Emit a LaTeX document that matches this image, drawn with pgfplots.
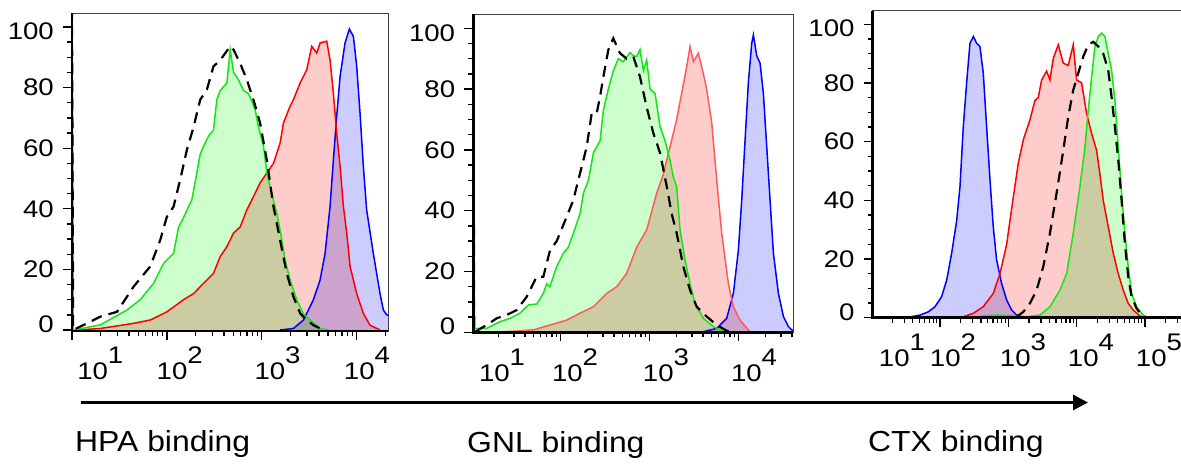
\documentclass[border=0pt]{standalone}
\usepackage{fontspec}
\setmainfont{Liberation Sans}
\newfontfamily\tickfont[FakeStretch=1.15]{Liberation Sans}
\newfontfamily\labfont[FakeStretch=1.1]{Liberation Sans}
\usepackage{pgfplots}
\pgfplotsset{compat=1.18}
\usepackage{pgfplotstable}
\usetikzlibrary{arrows.meta}

\definecolor{gL}{RGB}{20,230,20}
\definecolor{gF}{RGB}{204,255,204}
\definecolor{rL}{RGB}{255,0,0}
\definecolor{rL2}{RGB}{255,90,90}
\definecolor{rF}{RGB}{255,204,204}
\definecolor{bL}{RGB}{0,0,255}
\definecolor{bF}{RGB}{204,204,255}

% ---------------- Panel 1 (HPA) ----------------
\pgfplotstableread{
x y
1.000 106
1.012 0
1.053 0.2
1.298 1.7
1.579 6.6
1.719 10
1.860 15.4
1.965 22
2.070 25.3
2.123 34
2.158 36
2.263 43
2.316 52
2.351 58
2.386 60.6
2.439 64
2.491 66
2.526 76
2.561 79
2.632 81.5
2.667 92.5
2.702 85
2.754 82.6
2.807 79
2.860 78
2.930 72.7
2.965 67
3.018 60.6
3.053 52
3.105 45
3.158 38.5
3.193 33
3.246 23
3.298 16.5
3.368 10
3.439 5.3
3.509 3.3
3.614 0.5
3.700 0
}\gA
\pgfplotstableread{
x y
1.000 106
1.012 0
1.158 2.2
1.298 4.4
1.474 6
1.649 14.3
1.825 21
1.930 29.7
2.000 37.4
2.070 40.7
2.140 49.6
2.211 59.5
2.281 67
2.351 76
2.421 79.3
2.491 87
2.561 89
2.667 93.6
2.702 92.5
2.772 88
2.842 82.6
2.912 76
2.982 68.3
3.053 56
3.123 40.7
3.193 29.7
3.263 18.7
3.333 11
3.404 5.5
3.474 3.3
3.544 1.6
3.649 0
}\kA
\pgfplotstableread{
x y
1.000 100
1.012 0
1.053 0
1.298 0.5
1.649 2.2
1.825 3.3
2.000 6
2.175 10
2.281 12
2.351 14.3
2.491 18.7
2.561 24.2
2.632 27.5
2.702 32
2.772 34
2.842 39.6
2.912 44
2.982 48.5
3.053 51.8
3.123 55
3.193 61.7
3.228 68.3
3.298 73.8
3.333 76
3.404 81.5
3.474 85.9
3.526 93.6
3.579 91.4
3.614 94.7
3.684 95.3
3.719 89.2
3.754 78.2
3.789 65
3.825 54
3.860 40.7
3.895 32
3.930 21
4.000 12
4.070 5.5
4.140 1.6
4.246 0
}\rA
\pgfplotstableread{
x y
3.193 0
3.333 0.5
3.439 3.3
3.544 10
3.614 16.5
3.667 25.3
3.719 40.7
3.754 56
3.789 70.5
3.825 83.7
3.877 94.7
3.923 99.3
3.965 96.9
4.000 87
4.035 71.6
4.070 54
4.105 39.6
4.175 25.3
4.246 12
4.281 6.6
4.316 5
4.400 4
}\bA

% ---------------- Panel 2 (GNL) ----------------
\pgfplotstableread{
x y
1.020 106
1.030 1.3
1.058 1.3
1.170 1.3
1.245 2.4
1.320 3.5
1.433 4.6
1.545 6.3
1.639 9
1.732 9.3
1.807 12.8
1.845 16
1.880 15
1.957 21.6
2.032 26
2.088 28
2.144 32.6
2.219 39
2.257 45.7
2.313 50
2.369 59
2.444 63
2.481 73
2.537 80
2.593 86
2.650 90
2.706 89
2.781 92
2.818 91
2.856 90.7
2.893 93
2.931 86
2.968 89.6
3.006 80
3.062 78.6
3.118 67.7
3.174 63
3.230 56.7
3.268 51
3.305 48
3.343 33.7
3.399 23.8
3.455 16
3.511 9.5
3.605 4.6
3.717 1.9
3.830 0.2
3.900 0
}\gB
\pgfplotstableread{
x y
1.020 106
1.030 0
1.170 2.4
1.283 4.6
1.395 5.7
1.507 7.3
1.620 11.7
1.732 18.3
1.807 18.3
1.882 27
1.957 30
2.069 38
2.144 43.5
2.238 54.5
2.294 61
2.350 72
2.406 72
2.444 77.5
2.481 84
2.537 92.9
2.593 96.7
2.668 91.8
2.743 90
2.818 90.7
2.893 84
2.968 74
3.043 65.5
3.118 59
3.193 48
3.249 39
3.305 32.6
3.380 21.6
3.455 13.9
3.530 8.4
3.642 5.2
3.755 2.4
3.867 0.5
3.950 0
}\kB
\pgfplotstableread{
x y
1.208 0
1.507 0.4
1.695 0.8
1.882 2.4
2.069 4
2.219 6.3
2.369 8.4
2.519 12.8
2.631 15
2.743 19.4
2.856 28
2.968 33.7
3.080 45.7
3.155 52
3.230 61
3.305 70
3.361 78.6
3.418 87.4
3.455 94
3.493 89
3.549 91.8
3.605 85
3.642 80
3.699 68.8
3.755 50
3.811 32.6
3.886 16
3.942 8.4
4.017 4
4.129 0.2
4.200 0
}\rB
\pgfplotstableread{
x y
3.605 0.2
3.755 1.3
3.867 4.6
3.942 12.8
3.998 27
4.036 43.5
4.073 63
4.110 82
4.148 95
4.167 97.8
4.204 91
4.242 88.5
4.279 78.6
4.317 61
4.354 43.5
4.392 26
4.448 12.8
4.504 5.2
4.560 1.9
4.597 0.8
4.650 0.5
}\bB

% ---------------- Panel 3 (CTX) ----------------
\pgfplotstableread{
x y
1.015 1
1.030 0
1.512 0
1.707 0.9
1.829 2
1.927 3.75
2.024 7.2
2.098 12.8
2.171 22
2.244 33
2.293 44.7
2.341 65
2.390 80
2.439 93.5
2.488 95.8
2.537 93.5
2.585 92.4
2.634 83.3
2.683 65
2.732 47
2.780 31
2.829 19.7
2.902 11.7
2.976 6
3.049 2.6
3.122 0.9
3.220 0.1
3.400 0
}\bC
\pgfplotstableread{
x y
2.293 0
2.488 1.5
2.634 3.75
2.780 8.3
2.878 15
2.976 25
3.073 41
3.146 52.6
3.220 60.6
3.317 67.4
3.390 74
3.439 75
3.488 81
3.561 84
3.610 81
3.659 88.4
3.732 93
3.805 86.7
3.878 86
3.951 93
4.000 81
4.073 80
4.146 69.7
4.220 62.8
4.293 57
4.341 49
4.390 40
4.463 31
4.537 22
4.610 15
4.683 9.4
4.756 4.9
4.829 2.6
4.927 0.6
5.024 0
5.600 0
}\rC
\pgfplotstableread{
x y
2.390 0
2.683 0.7
2.878 0.9
3.073 0.6
3.268 0.3
3.463 0.9
3.610 3.75
3.756 9.4
3.854 15
3.951 28.8
4.049 44.7
4.122 58
4.171 70.8
4.220 82
4.268 92.4
4.317 95.8
4.366 97
4.415 95.8
4.463 90
4.512 84.4
4.561 74
4.610 58
4.659 42.4
4.707 28.8
4.756 17.4
4.805 8.3
4.878 3.75
4.951 1.5
5.024 0
5.600 0
}\gC
\pgfplotstableread{
x y
3.122 0.3
3.220 2
3.317 4.9
3.415 9.4
3.512 17.4
3.610 28.8
3.707 42.4
3.805 57
3.878 68.5
3.951 77.6
4.024 83.3
4.098 89
4.171 93
4.244 94
4.317 92.4
4.390 90
4.463 84.4
4.512 75.3
4.561 65
4.610 53.8
4.659 40
4.707 25.3
4.756 14
4.805 7.2
4.878 3.2
4.951 0.9
5.024 0
}\kC

\pgfplotsset{
  flow/.style={
    scale only axis,
    anchor=south west,
    axis line style={line width=0.9bp, black!75},
    tick pos=left,
    tick align=outside,
    ytick={0,20,40,60,80,100},
    yticklabels={},
    minor y tick num=3,
    major tick length=9bp,
    minor tick length=5bp,
    tick style={black, line width=1.3bp},
    tick label style={font=\tickfont\fontsize{24bp}{24bp}\selectfont},
    /pgf/number format/assume math mode=true,
    xticklabels={},
    minor xtick={1.301,1.477,1.602,1.699,1.778,1.845,1.903,1.954,
                 2.301,2.477,2.602,2.699,2.778,2.845,2.903,2.954,
                 3.301,3.477,3.602,3.699,3.778,3.845,3.903,3.954,
                 4.301,4.477,4.602,4.699,4.778,4.845,4.903,4.954,
                 5.301,5.477},
    clip mode=individual,
    extra x tick style={major tick length=0pt,
      xticklabel style={inner sep=0pt, anchor=north, yshift=-16bp}},
    extra y ticks={2,20,40,60,80,98.5},
    extra y tick labels={0,20,40,60,80,100},
    extra y tick style={major tick length=0pt,
      yticklabel style={inner sep=0pt, anchor=east, xshift=-18bp}},
  },
  gfill/.style={draw=none, fill=gF, blend mode=multiply},
  rfill/.style={draw=none, fill=rF, blend mode=multiply},
  bfill/.style={draw=none, fill=bF, blend mode=multiply},
  gline/.style={gL, line width=1.5bp},
  rline/.style={rL, line width=1.5bp},
  bline/.style={bL, line width=1.5bp},
  kline/.style={black, line width=2.2bp, dash pattern=on 11bp off 7bp},
}

\newcommand{\lab}[1]{10\raisebox{16bp}{#1}}

\begin{document}
\begin{tikzpicture}
\useasboundingbox (0,0) rectangle (1181bp,-467bp);

% Panel 1
\begin{axis}[flow, at={(72bp,-331bp)}, width=316.3bp, height=318bp,
  xmin=1, xmax=4.333, ymin=-0.33, ymax=104.6,
  xtick={1,2,3,4},
  extra x ticks={1.298,2.135,3.166,4.108},
  extra x tick labels={\lab{1},\lab{2},\lab{3},\lab{4}}]
\addplot[rfill] table {\rA} \closedcycle;
\addplot[gfill] table {\gA} \closedcycle;
\addplot[bfill] table {\bA} \closedcycle;
\addplot[bline] table {\bA};
\addplot[rline] table {\rA};
\addplot[gline] table {\gA};
\addplot[kline] table {\kA};
\draw[line width=2.5bp, black] (rel axis cs:0,1) -- (rel axis cs:0,0) -- (rel axis cs:1,0);
\end{axis}

% Panel 2
\begin{axis}[flow, at={(473.3bp,-332.3bp)}, width=319.7bp, height=318.3bp,
  xmin=1.02, xmax=4.612, ymin=0, ymax=104.7,
  xtick={2,3,4},
  extra x ticks={1.343,2.163,3.185,4.174},
  extra x tick labels={\lab{1},\lab{2},\lab{3},\lab{4}}]
\addplot[rfill] table {\rB} \closedcycle;
\addplot[gfill] table {\gB} \closedcycle;
\addplot[bfill] table {\bB} \closedcycle;
\addplot[bline] table {\bB};
\addplot[rL2, line width=1.5bp] table {\rB};
\addplot[gline] table {\gB};
\addplot[kline] table {\kB};
\draw[line width=2.5bp, black] (rel axis cs:0,1) -- (rel axis cs:0,0) -- (rel axis cs:1,0);
\end{axis}

% Panel 3
\begin{axis}[flow, at={(872.7bp,-317.7bp)}, width=310.3bp, height=307bp,
  xmin=1.015, xmax=5.558, ymin=0, ymax=104.6,
  xtick={2,3,4,5},
  extra x ticks={1.444,2.190,3.215,4.211,5.206},
  extra x tick labels={\lab{1},\lab{2},\lab{3},\lab{4},\lab{5}}]
\addplot[bfill] table {\bC} \closedcycle;
\addplot[rfill] table {\rC} \closedcycle;
\addplot[gfill] table {\gC} \closedcycle;
\addplot[bline] table {\bC};
\addplot[rline] table {\rC};
\addplot[gline] table {\gC};
\addplot[kline] table {\kC};
\draw[line width=2.5bp, black] (rel axis cs:0,1) -- (rel axis cs:0,0) -- (rel axis cs:1,0);
\end{axis}

% arrow and labels
\draw[line width=3bp, -{Triangle[length=15bp,width=15bp]}] (80.7bp,-402.5bp) -- (1088bp,-402.5bp);
\node[anchor=base west, inner sep=0pt, font=\labfont\fontsize{29bp}{29bp}\selectfont] at (75bp,-451bp) {HPA binding};
\node[anchor=base west, inner sep=0pt, font=\labfont\fontsize{29bp}{29bp}\selectfont] at (467bp,-452bp) {GNL binding};
\node[anchor=base west, inner sep=0pt, font=\labfont\fontsize{29bp}{29bp}\selectfont] at (868bp,-451bp) {CTX binding};
\end{tikzpicture}
\end{document}
